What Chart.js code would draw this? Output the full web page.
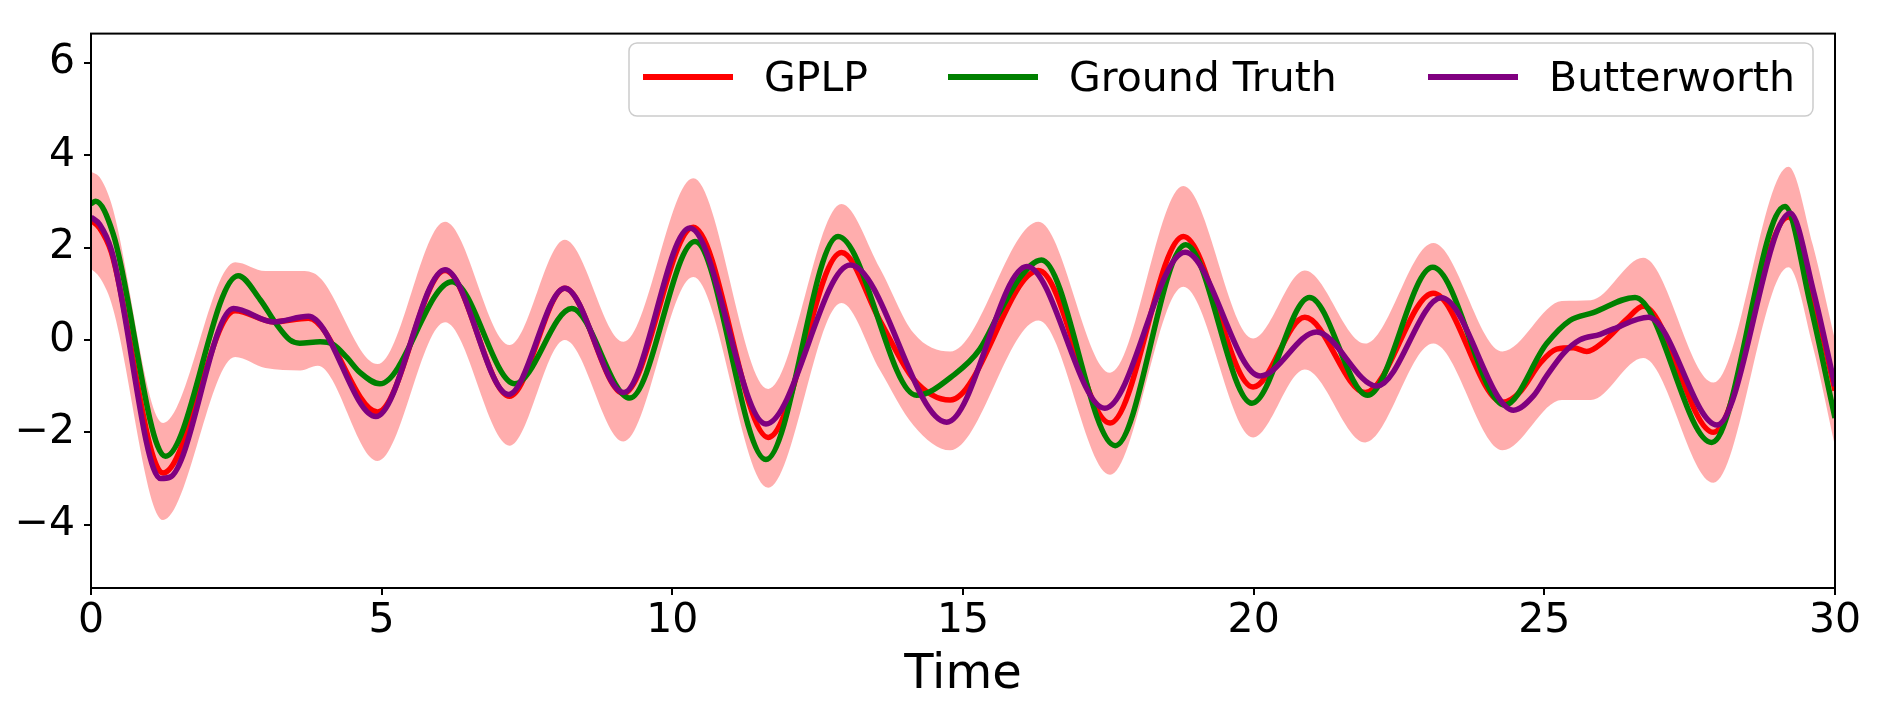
<!DOCTYPE html>
<html><head><meta charset="utf-8">
<script src="https://cdn.jsdelivr.net/npm/chart.js@4"></script>
<style>html,body{margin:0;padding:0;background:#fff;overflow:hidden;}</style>
</head><body>
<canvas id="c" width="1877" height="712"></canvas>
<script>
// ---------- data ----------
const seriesNames = ['GPLP', 'Ground Truth', 'Butterworth'];
const xTicks = [0, 5, 10, 15, 20, 25, 30];
const yTicks = [-4, -2, 0, 2, 4, 6];

const gplpT = [0, 0.15, 0.35, 1.24, 2.48, 3.14, 3.74, 4.93, 6.09, 7.2, 8.15, 9.16, 10.36, 11.65, 12.91, 13.57, 14.15, 14.78, 16.3, 17.53, 18.79, 19.99, 20.88, 21.92, 23.09, 24.28, 24.58, 24.93, 25.21, 25.5, 25.73, 26.02, 26.42, 26.7, 27.91, 29.2, 29.62, 30];
const gplpY = [2.59, 2.42, 1.9, -2.88, 0.63, 0.39, 0.47, -1.56, 1.5, -1.22, 1.12, -1.16, 2.44, -2.11, 1.89, 0.42, -0.85, -1.3, 1.5, -1.8, 2.24, -1.02, 0.49, -1.14, 1.01, -1.35, -1.13, -0.5, -0.2, -0.17, -0.25, -0.04, 0.45, 0.73, -2.0, 2.66, 0.95, -1.1];

const truthT = [0, 0.08, 0.38, 1.28, 2.53, 2.91, 3.19, 3.42, 3.59, 3.94, 4.17, 4.4, 4.63, 4.97, 6.21, 7.29, 8.27, 9.27, 10.39, 11.61, 12.85, 14.2, 14.85, 15.29, 15.63, 15.98, 16.35, 17.62, 18.83, 19.97, 20.96, 21.96, 23.08, 24.32, 25.04, 25.44, 25.84, 26.56, 27.88, 29.14, 29.57, 30];
const truthY = [2.95, 3.0, 2.3, -2.52, 1.39, 0.87, 0.34, 0.0, -0.07, -0.04, -0.1, -0.38, -0.71, -0.95, 1.26, -0.95, 0.68, -1.26, 2.13, -2.59, 2.24, -1.2, -0.75, -0.2, 0.6, 1.35, 1.73, -2.29, 2.06, -1.37, 0.92, -1.2, 1.57, -1.41, -0.08, 0.42, 0.59, 0.92, -2.22, 2.89, 0.8, -1.69];

const butterT = [0, 0.15, 0.35, 1.2, 1.36, 2.45, 3.14, 3.74, 4.9, 6.09, 7.18, 8.15, 9.16, 10.3, 11.61, 13.06, 14.72, 16.1, 17.44, 18.82, 20.11, 21.08, 22.12, 23.23, 24.47, 24.82, 25.04, 25.33, 25.61, 25.96, 26.19, 26.79, 27.97, 29.23, 29.63, 30];
const butterY = [2.66, 2.5, 1.95, -3.0, -2.97, 0.68, 0.39, 0.51, -1.66, 1.52, -1.18, 1.12, -1.14, 2.42, -1.82, 1.62, -1.78, 1.59, -1.48, 1.9, -0.78, 0.17, -1.0, 0.91, -1.52, -1.2, -0.78, -0.29, 0.0, 0.12, 0.24, 0.49, -1.84, 2.74, 1.05, -1.0];

const bandT = [0, 0.15, 0.35, 1.24, 2.48, 3.0, 3.6, 3.9, 4.93, 6.09, 7.2, 8.15, 9.16, 10.36, 11.65, 12.91, 13.57, 14.15, 14.78, 16.3, 17.53, 18.79, 19.99, 20.88, 21.92, 23.09, 24.28, 25.3, 25.8, 26.7, 27.91, 29.2, 29.62, 30];
const bandUpper = [3.64, 3.52, 2.95, -1.8, 1.68, 1.49, 1.49, 1.39, -0.52, 2.56, -0.11, 2.17, -0.04, 3.5, -1.06, 2.94, 1.55, 0.15, -0.25, 2.56, -0.71, 3.33, 0.03, 1.5, -0.08, 2.1, -0.25, 0.84, 0.86, 1.78, -0.92, 3.75, 2.05, 0.0];
const bandLower = [1.54, 1.35, 0.8, -3.9, -0.37, -0.61, -0.66, -0.56, -2.62, 0.38, -2.29, 0.0, -2.2, 1.36, -3.2, 0.8, -0.65, -1.85, -2.39, 0.42, -2.92, 1.15, -2.11, -0.64, -2.22, -0.08, -2.39, -1.3, -1.3, -0.39, -3.09, 1.57, -0.15, -2.3];

// ---------- helpers ----------
const pts = (xs, ys) => xs.map((x, i) => ({x: x, y: ys[i]}));
const FONT = 'DejaVu Sans';
const colors = ['#ff0000', '#008000', '#800080'];

const lineDs = (label, data, color, order) => ({
  label, data, borderColor: color, backgroundColor: color, borderWidth: 5.5,
  pointRadius: 0, fill: false, cubicInterpolationMode: 'monotone', order, clip: 0,
  borderCapStyle: 'butt', borderJoinStyle: 'round'
});

const framePlugin = {
  id: 'frame',
  afterDatasetsDraw(chart) {
    const {ctx, chartArea: a} = chart;
    ctx.save();
    ctx.strokeStyle = '#000';
    ctx.lineWidth = 2;
    ctx.strokeRect(a.left, a.top, a.right - a.left, a.bottom - a.top);
    ctx.restore();
  }
};

const legendPlugin = {
  id: 'boxLegend',
  afterDraw(chart) {
    const ctx = chart.ctx;
    const box = {x: 629, y: 43, w: 1184, h: 73, r: 8};
    ctx.save();
    ctx.beginPath();
    ctx.roundRect(box.x, box.y, box.w, box.h, box.r);
    ctx.fillStyle = 'rgba(255,255,255,0.8)';
    ctx.fill();
    ctx.strokeStyle = '#cccccc';
    ctx.lineWidth = 1.5;
    ctx.stroke();
    const handleX = [643, 948, 1428];
    const handleLen = 90, gap = 31, lineY = 77, textY = 91;
    ctx.font = '41px "' + FONT + '"';
    ctx.textBaseline = 'alphabetic';
    ctx.textAlign = 'left';
    seriesNames.forEach((name, i) => {
      ctx.beginPath();
      ctx.moveTo(handleX[i], lineY);
      ctx.lineTo(handleX[i] + handleLen, lineY);
      ctx.strokeStyle = colors[i];
      ctx.lineWidth = 6;
      ctx.stroke();
      ctx.fillStyle = '#000';
      ctx.fillText(name, handleX[i] + handleLen + gap, textY);
    });
    ctx.restore();
  }
};

new Chart(document.getElementById('c'), {
  type: 'line',
  data: {
    datasets: [
      lineDs(seriesNames[2], pts(butterT, butterY), colors[2], 1),
      lineDs(seriesNames[1], pts(truthT, truthY), colors[1], 2),
      lineDs(seriesNames[0], pts(gplpT, gplpY), colors[0], 3),
      {label: 'band upper', data: pts(bandT, bandUpper), borderWidth: 0, pointRadius: 0,
       fill: '+1', backgroundColor: 'rgba(255,0,0,0.32)', borderColor: 'rgba(0,0,0,0)',
       cubicInterpolationMode: 'monotone', order: 10, clip: 0},
      {label: 'band lower', data: pts(bandT, bandLower), borderWidth: 0, pointRadius: 0,
       fill: false, borderColor: 'rgba(0,0,0,0)', cubicInterpolationMode: 'monotone', order: 11, clip: 0}
    ]
  },
  options: {
    responsive: false,
    animation: false,
    devicePixelRatio: 1,
    layout: {padding: {left: 0, right: 42, top: 22, bottom: 0}},
    plugins: {legend: {display: false}, tooltip: {enabled: false}, filler: {propagate: false}},
    scales: {
      x: {
        type: 'linear', min: 0, max: 30,
        afterBuildTicks: s => { s.ticks = xTicks.map(v => ({value: v})); },
        afterFit: s => { s.height = 124; },
        grid: {display: true, drawOnChartArea: false, drawTicks: true, tickLength: 7, color: '#000', lineWidth: 2},
        border: {display: false},
        ticks: {color: '#000', font: {family: FONT, size: 41}, padding: 2, maxRotation: 0, autoSkip: false},
        title: {display: true, text: 'Time', color: '#000', font: {family: FONT, size: 48}, padding: {top: 0, bottom: 8}}
      },
      y: {
        type: 'linear', min: -5.37, max: 6.63,
        afterBuildTicks: s => { s.ticks = yTicks.map(v => ({value: v})); },
        afterFit: s => { s.width = 91; },
        grid: {display: true, drawOnChartArea: false, drawTicks: true, tickLength: 7, color: '#000', lineWidth: 2},
        border: {display: false},
        ticks: {color: '#000', font: {family: FONT, size: 41}, padding: 9,
                callback: v => String(v).replace('-', '\u2212')}
      }
    }
  },
  plugins: [framePlugin, legendPlugin]
});
</script>
</body></html>
